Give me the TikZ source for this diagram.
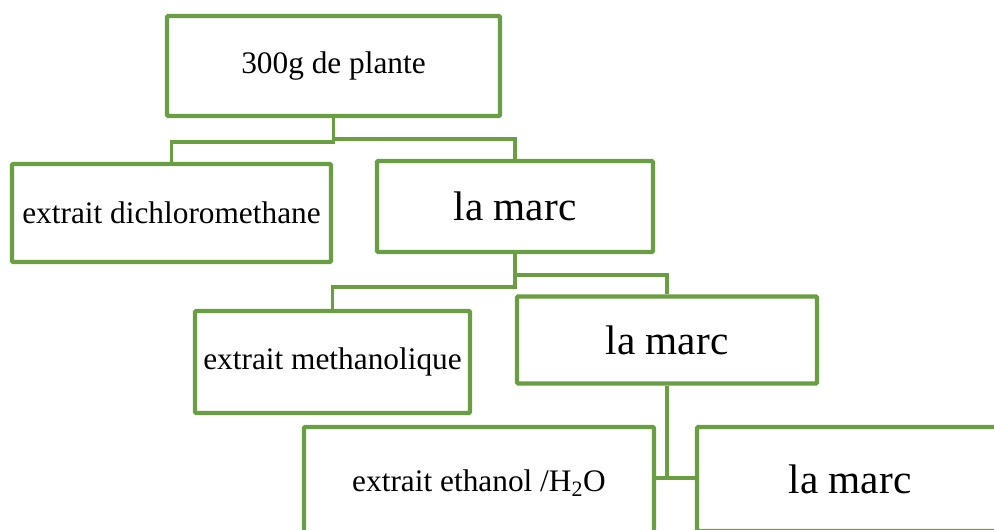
\documentclass[tikz,border=0pt]{standalone}
\usepackage{fontspec}
\setmainfont{Liberation Serif}
\usetikzlibrary{calc}
\definecolor{leafgreen}{RGB}{106,158,66}

\begin{document}
\begin{tikzpicture}[x=0.75pt, y=-0.75pt,
        mbox/.style = {draw = leafgreen, line width = 3.3pt, rounded corners = 1pt, fill = white, inner sep = 0pt, font = \fontsize{23.5}{28}\selectfont},
        mbig/.style = {mbox, font = \fontsize{31}{37}\selectfont},
        mlink/.style = {leafgreen, line width = 2.8pt}
        ]
        \useasboundingbox (0,0) rectangle (994,529);
        \clip (0,0) rectangle (994,529);

        \node[mbox, minimum width = 249.75pt, minimum height = 75pt] (plante) at (333.5,66) {300g de plante};

        \node[mbox, minimum width = 239.25pt, minimum height = 73.5pt] (dichloro) at (171.5,213) {extrait dichloromethane};
        \node[mbig, minimum width = 207pt, minimum height = 68.25pt] (marc1) at (515,206.5) {la marc};

        \node[mbox, minimum width = 206.25pt, minimum height = 76.5pt] (methanol) at (332.5,362) {extrait methanolique};
        \node[mbig, minimum width = 225pt, minimum height = 65.25pt] (marc2) at (667,340) {la marc};

        \node[mbox, minimum width = 262.5pt, minimum height = 84pt] (ethanol) at (479,483) {extrait ethanol /H\textsubscript{2}O};
        \node[mbig, minimum width = 229.5pt, minimum height = 78pt] (marc3) at (850,479) {la marc};

        % liens
        \draw[mlink] (plante.south) -- ++(0,24) -| (dichloro.north);
        \draw[mlink] (plante.south) -- ++(0,21) -| (marc1.north);

        \draw[mlink] (marc1.south) -- ++(0,33) -| (methanol.north);
        \draw[mlink] (marc1.south) -- ++(0,21) -| (marc2.north);

        \draw[mlink] (marc2.south) -- ++(0,92) coordinate (knot);
        \draw[mlink] (ethanol.east |- knot) -- (marc3.west |- knot);

    \end{tikzpicture}
\end{document}
